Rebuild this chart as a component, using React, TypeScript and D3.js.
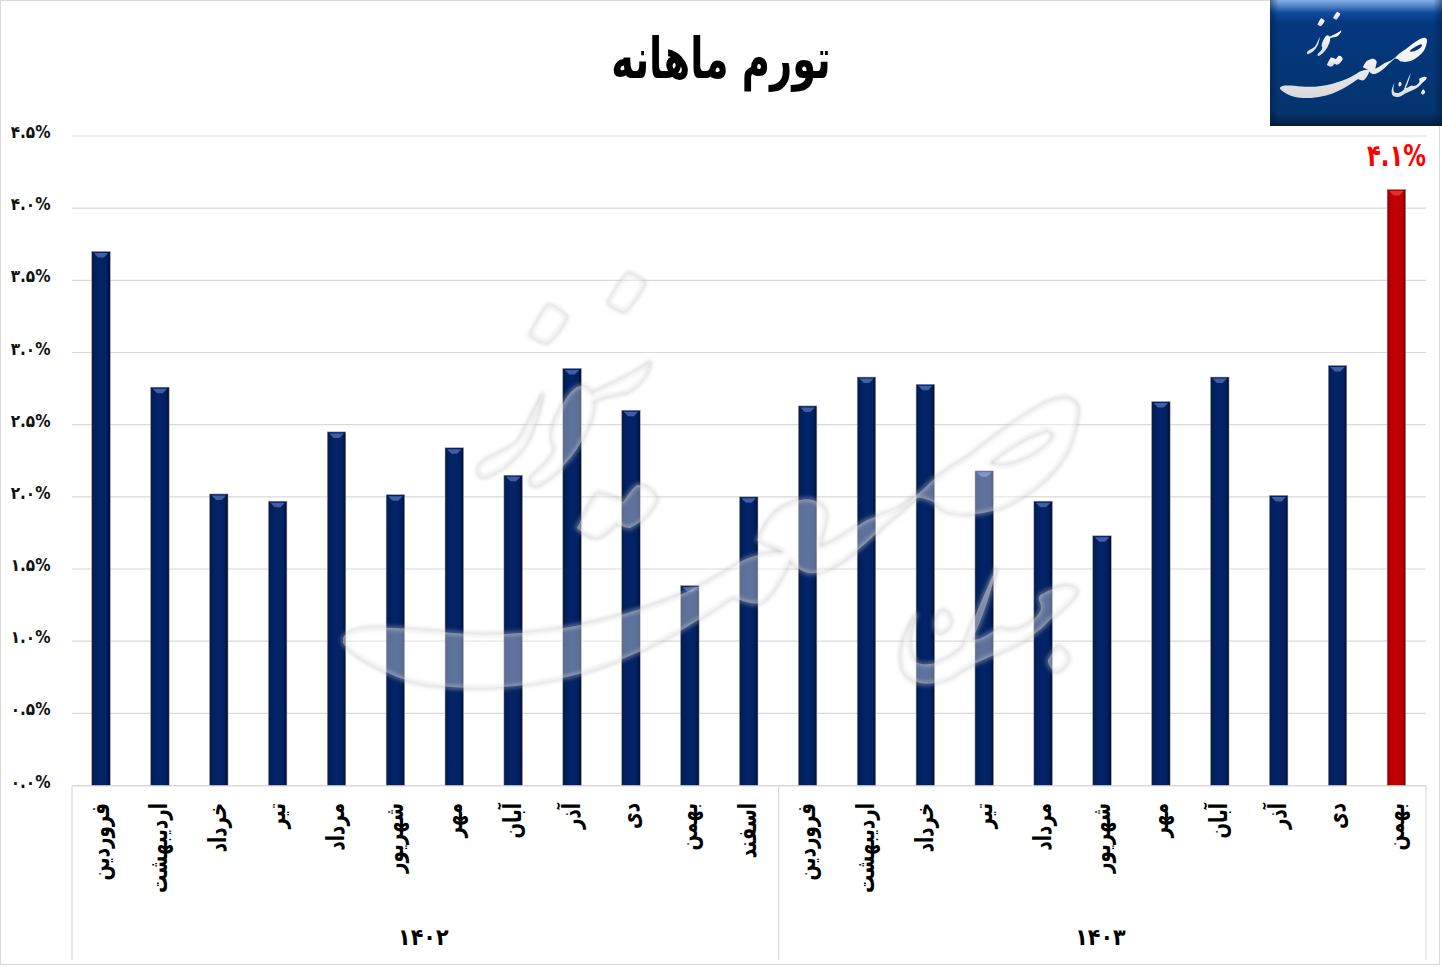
import React from 'react';
import * as d3 from 'd3';

const months = [
  'فروردین', 'اردیبهشت', 'خرداد', 'تیر', 'مرداد', 'شهریور', 'مهر', 'آبان', 'آذر', 'دی', 'بهمن', 'اسفند',
  'فروردین', 'اردیبهشت', 'خرداد', 'تیر', 'مرداد', 'شهریور', 'مهر', 'آبان', 'آذر', 'دی', 'بهمن',
];
const inflation = [
  3.70, 2.76, 2.02, 1.97, 2.45, 2.015, 2.34, 2.15, 2.89, 2.60, 1.385, 2.0,
  2.63, 2.83, 2.78, 2.18, 1.97, 1.73, 2.66, 2.83, 2.01, 2.91, 4.13,
];
const yearLabels = ['۱۴۰۲', '۱۴۰۳'];
const yearCounts = [12, 11];
const yTicks = [0, 0.5, 1, 1.5, 2, 2.5, 3, 3.5, 4, 4.5];
const yTickLabels = ['۰.۰%', '۰.۵%', '۱.۰%', '۱.۵%', '۲.۰%', '۲.۵%', '۳.۰%', '۳.۵%', '۴.۰%', '۴.۵%'];
const title = 'تورم ماهانه';
const lastLabel = '۴.۱%';

const WIDTH = 1442;
const HEIGHT = 967;
const FONT = '"DejaVu Sans Condensed", "DejaVu Sans", sans-serif';

// logo outlines traced from the watermark, reused small for the badge
const logoShapes = [
  // main stroke with the sad loop
  'M343 638 C350 622 400 628 453 633 C500 637 560 632 610 618 C660 604 700 590 740 562 C752 555 770 552 784 552 C775 548 765 544 757 540 C765 525 772 512 783 507 C795 500 806 498 813 500 C825 505 828 512 826 520 C824 530 820 540 820 547 C835 542 850 530 867 520 C880 515 890 512 900 507 C915 497 925 488 933 480 C945 470 960 462 973 453 C995 435 1015 420 1033 410 C1045 402 1058 397 1067 398 C1076 400 1079 406 1078 413 C1076 430 1072 442 1067 453 C1057 470 1046 480 1033 490 C1015 503 1000 510 983 513 C965 516 950 514 943 510 C938 507 935 504 933 502 C928 500 922 497 917 498 C908 505 898 515 887 523 C872 538 852 557 833 567 C822 573 815 574 808 573 C800 571 795 566 790 560 C784 575 775 592 762 603 C752 605 742 601 733 597 C700 620 665 642 620 660 C585 675 530 688 480 688 C445 688 415 684 397 677 C375 667 352 656 343 643 Z M990 463 C1005 450 1025 437 1047 430 C1052 431 1054 434 1053 437 C1047 448 1030 458 1015 463 C1005 466 995 466 990 463 Z',
  // dots above
  'M548 305 C555 306 562 312 567 317 C562 328 554 338 547 343 C540 342 534 338 530 335 C535 325 541 314 548 305 Z',
  'M628 273 C635 275 641 279 645 283 C640 294 632 304 625 312 C618 310 612 306 608 303 C613 293 620 282 628 273 Z',
  // zay and vav
  'M650 362 C650 372 640 385 628 392 C618 395 600 396 593 402 C596 410 590 425 582 440 C575 455 555 478 537 486 C530 487 528 480 533 475 C545 465 553 457 555 447 C548 440 552 425 558 413 C565 398 572 388 580 386 C586 386 590 390 592 394 C605 385 625 380 650 362 Z',
  // ra
  'M543 393 C540 410 535 425 530 437 C520 458 500 472 485 477 C478 478 476 472 480 464 C490 455 510 450 518 441 C526 428 535 408 543 393 Z',
  // mim
  'M597 493 C606 494 615 497 623 502 C627 496 632 489 637 485 C647 484 655 492 657 500 C652 512 640 524 630 528 C625 528 620 525 617 523 C610 530 603 537 597 538 C590 537 582 533 577 528 C583 515 590 503 597 493 Z',
  // jahan
  'M917 613 C905 630 898 650 902 668 C908 686 935 690 960 672 C985 655 1020 650 1045 625 C1060 610 1077 600 1077 590 C1068 580 1050 590 1040 595 C1035 602 1048 605 1035 618 C1025 630 1010 632 1000 628 C990 632 982 640 972 640 C982 620 992 590 997 567 C985 590 972 625 962 648 C945 662 928 668 916 662 C906 650 910 630 917 613 Z',
  'M943 610 C948 612 952 618 951 624 C948 630 942 634 938 633 C934 628 934 622 936 618 C938 614 940 611 943 610 Z',
  'M1058 646 C1064 648 1068 654 1069 660 C1066 666 1060 672 1055 672 C1050 668 1048 664 1048 660 C1051 655 1054 650 1058 646 Z',
];

const App: React.FC = () => {
  const x = d3.scaleBand<number>()
    .domain(d3.range(months.length))
    .range([71.7, 1425.7])
    .paddingInner(0.685)
    .paddingOuter(0.34);
  const y = d3.scaleLinear().domain([0, 4.5]).range([785.5, 136]);
  const stepW = x.step();

  let offset = 0;
  const yearGroups = yearLabels.map((label, i) => {
    const x0 = 72 + offset * stepW;
    offset += yearCounts[i];
    return { label, x0, x1: 72 + offset * stepW };
  });

  return (
    <svg
      width={WIDTH}
      height={HEIGHT}
      style={{ position: 'absolute', left: 0, top: 0, fontStretch: 'condensed' }}
      fontFamily={FONT}
      fontWeight="bold"
    >
      <defs>
        <linearGradient id="barBlue" x1="0" x2="1" y1="0" y2="0">
          <stop offset="0" stopColor="#0a1a45" />
          <stop offset="0.18" stopColor="#002060" />
          <stop offset="0.5" stopColor="#032468" />
          <stop offset="0.82" stopColor="#002060" />
          <stop offset="1" stopColor="#000c30" />
        </linearGradient>
        <linearGradient id="barRed" x1="0" x2="1" y1="0" y2="0">
          <stop offset="0" stopColor="#7a0000" />
          <stop offset="0.18" stopColor="#c00000" />
          <stop offset="0.82" stopColor="#c00000" />
          <stop offset="1" stopColor="#600000" />
        </linearGradient>
        <linearGradient id="logoBg" x1="0" x2="0" y1="0" y2="1">
          <stop offset="0" stopColor="#86b0e4" />
          <stop offset="0.04" stopColor="#5b8ccf" />
          <stop offset="0.1" stopColor="#104a9c" />
          <stop offset="0.18" stopColor="#04387f" />
          <stop offset="0.9" stopColor="#04346f" />
          <stop offset="1" stopColor="#041c3c" />
        </linearGradient>
        <linearGradient id="logoSides" x1="0" x2="1" y1="0" y2="0">
          <stop offset="0" stopColor="#021a3c" stopOpacity={0.5} />
          <stop offset="0.05" stopColor="#021a3c" stopOpacity={0} />
          <stop offset="0.95" stopColor="#021a3c" stopOpacity={0} />
          <stop offset="1" stopColor="#021a3c" stopOpacity={0.5} />
        </linearGradient>
        <linearGradient id="logoInk" x1="0" x2="0" y1="0" y2="1">
          <stop offset="0" stopColor="#ffffff" />
          <stop offset="1" stopColor="#d8d8d8" />
        </linearGradient>
        <filter id="soft" x="-10%" y="-10%" width="120%" height="120%">
          <feGaussianBlur stdDeviation="2.2" />
        </filter>
      </defs>

      <rect x={0.5} y={0.5} width={1439} height={964} fill="#fff" stroke="#d9d9d9" />

      {/* gridlines */}
      {yTicks.map(t => (
        <line key={t} x1={72} x2={1426} y1={y(t)} y2={y(t)} stroke="#d9d9d9" strokeWidth={1.2} />
      ))}

      {/* y axis labels */}
      {yTicks.map((t, i) => (
        <text key={t} x={50.5} y={y(t) + 2} textAnchor="end" fontSize={17} fill="#111" direction="ltr">
          {yTickLabels[i]}
        </text>
      ))}

      {/* bars */}
      {inflation.map((v, i) => {
        const last = i === inflation.length - 1;
        const bx = x(i) as number;
        const bw = x.bandwidth();
        const top = y(v);
        return (
          <g key={i}>
            <rect
              x={bx}
              y={top}
              width={bw}
              height={y(0) - top}
              fill={last ? 'url(#barRed)' : 'url(#barBlue)'}
              stroke="#a6a6a6"
              strokeWidth={0.5}
            />
            <path
              d={`M${bx + 2} ${top + 1.5} H${bx + bw - 2} L${bx + bw * 0.65} ${top + 6} H${bx + bw * 0.35} Z`}
              fill={last ? '#e03030' : '#3f5ea6'}
            />
          </g>
        );
      })}

      {/* category axis frame */}
      <line x1={72} x2={1426} y1={786} y2={786} stroke="#d9d9d9" strokeWidth={1.2} />
      {[72, yearGroups[0].x1, 1426].map(px => (
        <line key={px} x1={px} x2={px} y1={786} y2={960} stroke="#d9d9d9" strokeWidth={1.2} />
      ))}

      {/* month labels, rotated counter clockwise */}
      {months.map((m, i) => {
        const cx = (x(i) as number) + x.bandwidth() / 2 + 0.5;
        return (
          <text
            key={i}
            transform={`translate(${cx},803) rotate(-90) scale(0.92,1.12)`}
            dominantBaseline="middle"
            fontSize={22}
            fill="#000"
            direction="rtl"
            textAnchor="start"
          >
            {m}
          </text>
        );
      })}

      {/* years */}
      {yearGroups.map(g => (
        <text key={g.label} x={(g.x0 + g.x1) / 2 - 2} y={945} textAnchor="middle" fontSize={23} fill="#000">
          {g.label}
        </text>
      ))}

      {/* title */}
      <text
        transform="translate(721,78) scale(0.95,1.25)"
        textAnchor="middle"
        fontSize={45}
        fill="#000"
        direction="rtl"
      >
        {title}
      </text>

      {/* value of the last bar */}
      <text
        transform="translate(1426,166) scale(0.87,1.05)"
        textAnchor="end"
        fontSize={29}
        fill="#ff0000"
        direction="ltr"
      >
        {lastLabel}
      </text>

      {/* watermark over the bars */}
      <g fillRule="evenodd">
        <g filter="url(#soft)">
          {logoShapes.map((d, i) => (
            <path key={i} d={d} fill="none" stroke="#b8b8b8" strokeOpacity={0.75} strokeWidth={2.5} />
          ))}
        </g>
        {logoShapes.map((d, i) => (
          <path key={i} d={d} fill="#fff" fillOpacity={0.36} />
        ))}
      </g>

      {/* logo */}
      <rect x={1270} y={0} width={172} height={126} fill="url(#logoBg)" />
      <rect x={1270} y={0} width={172} height={126} fill="url(#logoSides)" />
      <g transform="translate(1280,98) scale(0.2,0.208) translate(-343,-688)" fillRule="evenodd">
        {logoShapes.map((d, i) => (
          <path key={i} d={d} fill="url(#logoInk)" />
        ))}
      </g>
    </svg>
  );
};

export default App;
